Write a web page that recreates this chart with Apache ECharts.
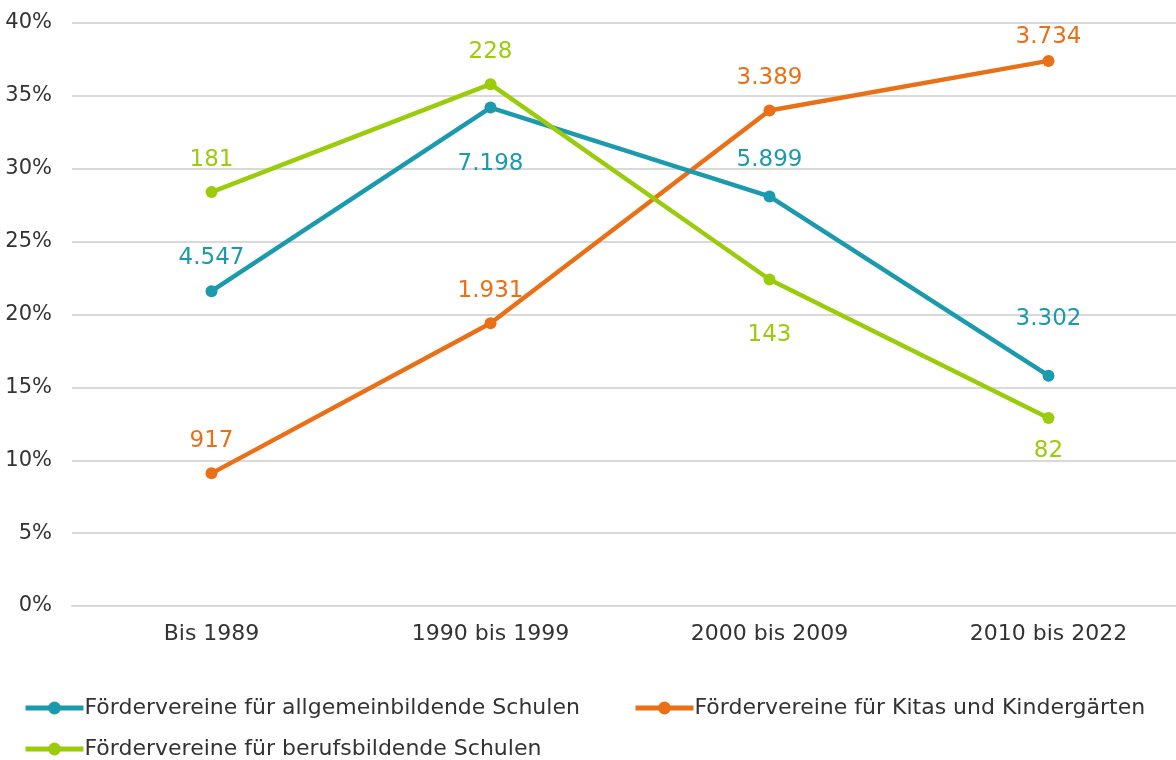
<!DOCTYPE html>
<html><head><meta charset="utf-8">
<script src="https://cdn.jsdelivr.net/npm/echarts@6/dist/echarts.min.js"></script>
<style>html,body{margin:0;padding:0;background:#fff}#c{width:1176px;height:760px}</style>
</head><body><div id="c"></div>
<script>
const categories = ['Bis 1989', '1990 bis 1999', '2000 bis 2009', '2010 bis 2022'];
const seriesNames = ['Fördervereine für allgemeinbildende Schulen', 'Fördervereine für Kitas und Kindergärten', 'Fördervereine für berufsbildende Schulen'];
const allgemein = [21.6, 34.2, 28.1, 15.8];
const kitas = [9.1, 19.4, 34.0, 37.4];
const berufs = [28.4, 35.8, 22.4, 12.9];
const allgemeinLabels = ['4.547', '7.198', '5.899', '3.302'];
const kitasLabels = ['917', '1.931', '3.389', '3.734'];
const berufsLabels = ['181', '228', '143', '82'];
const yTicks = [0, 5, 10, 15, 20, 25, 30, 35, 40];

const FONT = 'DejaVu Sans';
const colors = ['#1b9aae', '#ea7017', '#9acc0c'];
const labelDy = [
  [-33, 56, -36, -57],
  [-32, -32, -32, -24],
  [-32, -32, 56, 33]
];
function mk(vals, labels, idx) {
  return vals.map((v, i) => ({
    value: v,
    label: { show: true, formatter: labels[i], position: 'inside', offset: [0, labelDy[idx][i]] }
  }));
}
const chart = echarts.init(document.getElementById('c'));
const sData = [[allgemein, allgemeinLabels], [kitas, kitasLabels], [berufs, berufsLabels]];
chart.setOption({
  animation: false,
  grid: { left: 72, right: -12, top: 23, bottom: 154, outerBoundsMode: 'none', containLabel: false },
  xAxis: {
    type: 'category', data: categories, boundaryGap: true,
    axisLine: { lineStyle: { color: '#d9d9d9', width: 2 } },
    axisTick: { show: false },
    axisLabel: { color: '#333', fontFamily: FONT, fontSize: 22, margin: 17 }
  },
  yAxis: {
    type: 'value', min: yTicks[0], max: yTicks[yTicks.length - 1], interval: 5,
    axisLabel: { formatter: '{value}%', color: '#333', fontFamily: FONT, fontSize: 21, margin: 20 },
    splitLine: { lineStyle: { color: '#d9d9d9', width: 2 } },
    axisLine: { show: false }, axisTick: { show: false }
  },
  legend: [
    { data: [seriesNames[0]], left: 23, top: 697 },
    { data: [seriesNames[1]], left: 633, top: 697 },
    { data: [seriesNames[2]], left: 23, top: 738 }
  ].map(l => Object.assign(l, {
    padding: 0,
    itemWidth: 58, itemHeight: 16, itemGap: 4,
    lineStyle: { width: 5 },
    textStyle: { color: '#333', fontFamily: FONT, fontSize: 22, padding: [0, 0, 0, -4] }
  })),
  series: sData.map((d, i) => ({
    name: seriesNames[i], type: 'line', data: mk(d[0], d[1], i),
    color: colors[i],
    lineStyle: { width: 4.5, color: colors[i] },
    symbol: 'circle', symbolSize: 12,
    itemStyle: { color: colors[i] },
    label: { color: colors[i], fontFamily: FONT, fontSize: 23 },
    z: i === 0 ? 3 : (i === 1 ? 2 : 4)
  }))
});
</script></body></html>
